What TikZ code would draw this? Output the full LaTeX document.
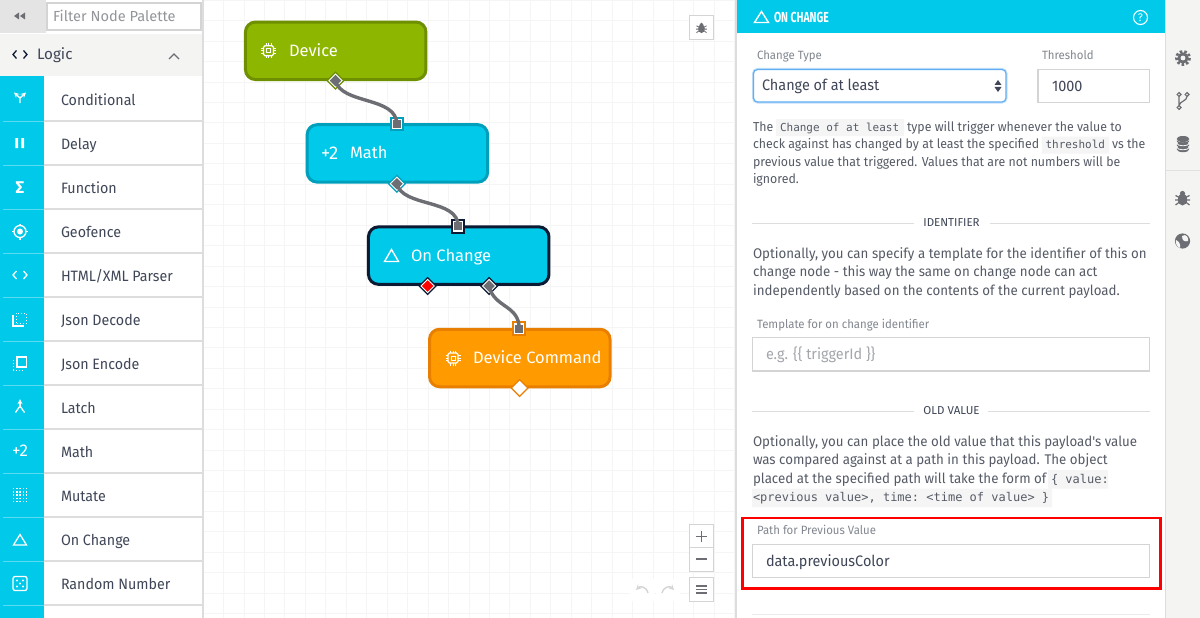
\documentclass[tikz,border=0pt]{standalone}
\usepackage{fontspec}
\setmainfont{Fira Sans}
\setmonofont{DejaVu Sans Mono}
\newfontfamily\narrowfont[FakeStretch=.95]{Fira Sans}
\usetikzlibrary{shapes.geometric}

\definecolor{cyanfill}{HTML}{00C9EA}
\definecolor{cyandark}{HTML}{009FBC}
\definecolor{greenfill}{HTML}{8DB600}
\definecolor{greendark}{HTML}{6E8F00}
\definecolor{orangefill}{HTML}{FF9B00}
\definecolor{orangedark}{HTML}{E97F00}
\definecolor{navydark}{HTML}{0C1A33}
\definecolor{inktext}{HTML}{3F4657}
\definecolor{bodytext}{HTML}{565B66}
\definecolor{labeltext}{HTML}{82878F}
\definecolor{hinttext}{HTML}{A3A6AB}
\definecolor{wiregray}{HTML}{6D6E73}
\definecolor{panelgray}{HTML}{F4F4F3}
\definecolor{rulegray}{HTML}{DDDDDD}
\definecolor{boxgray}{HTML}{D4D4D4}
\definecolor{gridgray}{HTML}{F5F5F5}
\definecolor{chipgray}{HTML}{F5F5F5}
\definecolor{focusblue}{HTML}{62AEF2}
\definecolor{focusglow}{HTML}{C4E0FA}

\tikzset{
  txt/.style={anchor=base west, inner sep=0, outer sep=0},
  rowtext/.style={txt, text=inktext, font=\narrowfont\fontsize{15}{16}\selectfont},
  flowtext/.style={txt, text=white, font=\fontsize{16.5}{18}\selectfont},
  flownode/.style={rectangle, rounded corners=10pt, line width=3pt, minimum width=180.5pt, minimum height=57.5pt, inner sep=0},
  dia/.style={diamond, inner sep=0, outer sep=0},
  sqr/.style={rectangle, inner sep=0, outer sep=0},
  wire/.style={draw=wiregray, line width=3.4pt},
  para/.style={txt, text=bodytext, font=\narrowfont\fontsize{13}{16}\selectfont},
  parb/.style={txt, text=bodytext, font=\narrowfont\fontsize{14}{16}\selectfont},
  monoa/.style={txt, text=bodytext, font=\ttfamily\fontsize{11}{16}\selectfont},
  monob/.style={txt, text=bodytext, font=\ttfamily\fontsize{12}{16}\selectfont},
  caption/.style={txt, text=labeltext, font=\narrowfont\fontsize{12}{14}\selectfont},
  section/.style={anchor=base, inner sep=0, text=inktext, font=\fontsize{11.5}{14}\selectfont},
  fieldtext/.style={txt, text=inktext, font=\narrowfont\fontsize{15.2}{16}\selectfont},
  field/.style={draw=boxgray, line width=1.4pt, fill=white},
  iconline/.style={draw=white, line width=1.3pt},
  btn/.style={draw=boxgray, line width=1pt, fill=white}
}

% output port, name / position / rim / core
\newcommand{\outport}[4]{
  \node[dia, minimum size=18.5pt, fill=#3] (#1) at #2 {};
  \node[dia, minimum size=14.5pt, fill=white] at #2 {};
  \node[dia, minimum size=11.5pt, fill=#4] at #2 {};
}
% input port, name / position / rim
\newcommand{\inport}[3]{
  \node[sqr, minimum size=14.5pt, fill=#3] (#1) at #2 {};
  \node[sqr, minimum size=10.5pt, fill=white] at #2 {};
  \node[sqr, minimum size=8pt, fill=wiregray] at #2 {};
}
\newcommand{\chipicon}[2]{
  \begin{scope}[shift={(#1,#2)}]
    \draw[iconline, rounded corners=1.5pt] (-5,-5) rectangle (5,5);
    \draw[iconline, line width=1pt] (-2,-2) rectangle (2,2);
    \foreach \t in {-2.5,0,2.5} {
      \draw[white, line width=.9pt] (\t,-7.5) -- (\t,-5) (\t,5) -- (\t,7.5) (-7.5,\t) -- (-5,\t) (5,\t) -- (7.5,\t);
    }
  \end{scope}
}
% bug, x / y / size
\newcommand{\bugicon}[3]{
  \begin{scope}[shift={(#1,#2)}, scale=#3]
    \fill[wiregray] (0,1) ellipse (4.6 and 6);
    \fill[wiregray] (0,-5) circle (2.6);
    \draw[wiregray, line width=#3*1.2pt] (-7,-3) -- (-3,-1) (7,-3) -- (3,-1) (-7.5,1.5) -- (7.5,1.5) (-7,6.5) -- (-3,3.5) (7,6.5) -- (3,3.5);
  \end{scope}
}
\newcommand{\chevrons}[2]{
  \draw[iconcolor, line width=1.3pt] (#1-3.5,#2-4) -- (#1-7,#2) -- (#1-3.5,#2+4) (#1+3.5,#2-4) -- (#1+7,#2) -- (#1+3.5,#2+4);
}
\colorlet{iconcolor}{white}

\begin{document}
\begin{tikzpicture}[x=1,y=-1]
\useasboundingbox (0,0) rectangle (1200,618);
\fill[white] (0,0) rectangle (1200,618);

% canvas
\begin{scope}[shift={(203.1,0.22)}]
\draw[gridgray, line width=.9pt, xstep=20.45pt, ystep=20.45pt] (1,618) grid (532,0);
\end{scope}

% palette
\fill[rulegray!80] (0,0) rectangle (46,33);
\fill[white] (46,0) rectangle (202,33);
\draw[boxgray, line width=1.2pt, fill=white] (47,3) rectangle (201,30);
\node[txt, text=hinttext!90!black, font=\fontsize{14.6}{16}\selectfont] (filter) at (53,21.6) {Filter Node Palette};
\fill[wiregray] (14,16) -- (19,12.5) -- (19,19.5) -- cycle (20,16) -- (25,12.5) -- (25,19.5) -- cycle;
\fill[panelgray] (0,34) rectangle (202,76.5);
\colorlet{iconcolor}{navydark}
\chevrons{20}{54.5}
\colorlet{iconcolor}{white}
\node[txt, text=inktext, font=\fontsize{15.2}{16}\selectfont] (logic) at (37,59.8) {Logic};
\draw[wiregray, line width=1.3pt] (169,59) -- (174,54) -- (179,59);
\fill[cyanfill] (0,76.5) rectangle (44,618);
\foreach \y/\name in {105/Conditional,149/Delay,193/Function,237/Geofence,281/{HTML/XML Parser},325/Json Decode,369/Json Encode,413/Latch,457/Math,501/Mutate,545/On Change,589/Random Number} {
  \node[rowtext] (row\y) at (61,\y) {\name};
  \draw[rulegray, line width=1.1pt] (44,\y+16) -- (202,\y+16);
  \draw[white!35!cyanfill, line width=.7pt] (3,\y+16) -- (44,\y+16);
}
\draw[rulegray, line width=1.6pt] (203,0) -- (203,618);

% palette icons
\draw[iconline, ->, >=stealth] (20,103) -- (20,98) -- (14,92.5);
\draw[iconline, ->, >=stealth] (20,98) -- (26,92.5);
\fill[white] (15.3,138) rectangle (18,148) (21.3,138) rectangle (24,148);
\node[white, inner sep=0, font=\bfseries\fontsize{17}{18}\selectfont] (sigma) at (20,188) {Σ};
\draw[iconline] (20,231.5) circle (6);
\fill[white] (20,231.5) circle (3);
\draw[iconline] (20,223.5) -- (20,225.5) (20,237.5) -- (20,239.5) (12,231.5) -- (14,231.5) (26,231.5) -- (28,231.5);
\chevrons{20}{275}
\draw[iconline] (13,315) -- (13,326) -- (24,326);
\draw[white, line width=1pt, dotted] (16,323) -- (16,313) -- (26.5,313) -- (26.5,323) -- cycle;
\draw[iconline] (17,357) rectangle (26.5,367);
\draw[white, line width=1pt, dotted] (13.5,360) -- (13.5,370) -- (24,370);
\draw[iconline, ->, >=stealth] (20,406) -- (20,399);
\draw[iconline] (15.5,412.5) -- (20,406) -- (24.5,412.5);
\node[white, inner sep=0, font=\fontsize{17}{18}\selectfont] (plustwo) at (20,451) {+2};
\foreach \a in {-2,...,2} \foreach \b in {-2,...,2} {
  \fill[white] ({20+3.2*\a-.7},{495+3.2*\b-.7}) rectangle ({20+3.2*\a+.7},{495+3.2*\b+.7});
}
\draw[iconline] (20,534.5) -- (26.5,545) -- (13.5,545) -- cycle;
\draw[iconline, rounded corners=2pt] (13,576.5) rectangle (27,590.5);
\foreach \a/\b in {-3/-3,3/-3,0/0,-3/3,3/3} \fill[white] (20+\a,583.5+\b) circle (1.1);

% flow nodes
\node[flownode, draw=greendark, fill=greenfill] (device) at (335.7,50.8) {};
\node[flownode, draw=cyandark, fill=cyanfill] (math) at (397.4,153.4) {};
\node[flownode, draw=navydark, fill=cyanfill] (onchange) at (458.7,255.6) {};
\node[flownode, draw=orangedark, fill=orangefill] (command) at (519.8,358) {};

\chipicon{268.5}{50.8}
\node[flowtext] (devicetext) at (289,56.8) {Device};
\node[flowtext, font=\fontsize{18.5}{18}\selectfont] (mathicon) at (321,159) {+2};
\node[flowtext] (mathtext) at (350,158.8) {Math};
\draw[iconline, line width=1.4pt] (391.5,249.5) -- (398.5,261.5) -- (384.5,261.5) -- cycle;
\node[flowtext] (onchangetext) at (411,261.8) {On Change};
\chipicon{453}{358}
\node[flowtext] (commandtext) at (473,363.8) {Device Command};

\outport{deviceout}{(335.5,80.7)}{greendark}{wiregray}
\inport{mathin}{(396.8,124.2)}{cyandark}
\outport{mathout}{(396.8,183.7)}{cyandark}{wiregray}
\inport{onchangein}{(458.2,226.3)}{navydark}
\outport{onchangetrue}{(427.5,286)}{navydark}{red}
\outport{onchangefalse}{(489,286)}{navydark}{wiregray}
\inport{commandin}{(519.2,328.7)}{orangedark}
\outport{commandout}{(519.5,388)}{orangedark}{white}

\draw[wire] (deviceout.center) .. controls +(6,24) and +(0,-28) .. (mathin.center);
\draw[wire] (mathout.center) .. controls +(6,24) and +(0,-28) .. (onchangein.center);
\draw[wire] (onchangefalse.center) .. controls +(5,22) and +(0,-24) .. (commandin.center);

% canvas buttons
\node[btn, minimum size=24pt, inner sep=0] (debugbtn) at (701.5,28) {};
\bugicon{701.5}{28}{.72}
\node[btn, minimum size=24pt, inner sep=0] (zoomin) at (701.5,536.5) {};
\node[btn, minimum size=24pt, inner sep=0] (zoomout) at (701.5,559.5) {};
\node[btn, minimum size=24pt, inner sep=0] (menubtn) at (701.5,589.5) {};
\draw[wiregray, line width=1.2pt] (696,536.5) -- (707,536.5) (701.5,531) -- (701.5,542);
\draw[wiregray, line width=1.2pt] (696,559) -- (707,559);
\draw[wiregray, line width=1.2pt] (696,586) -- (707,586) (696,589.5) -- (707,589.5) (696,593) -- (707,593);
\fill[white] (630,579) rectangle (654,601) (656,579) rectangle (680,601);
\draw[boxgray, line width=1.4pt, ->, >=stealth] (648,593) .. controls (646,586) and (640,586) .. (636,590);
\draw[boxgray, line width=1.4pt, ->, >=stealth] (662,593) .. controls (664,586) and (670,586) .. (674,590);

% side bar
\fill[panelgray] (1166,0) rectangle (1200,618);
\fill[boxgray!80] (735,0) rectangle (737,618);
\fill[boxgray!80] (1164.6,0) rectangle (1166,618);
\fill[cyanfill] (737,0) rectangle (1165,33.5);
\draw[boxgray!70, line width=.8pt] (1166,170) -- (1200,170);

% side bar icons
\fill[wiregray] (1183,58) circle (5.6);
\draw[wiregray, line width=2.6pt, dash pattern=on 2.6pt off 2pt] (1183,58) circle (6.6);
\fill[panelgray] (1183,58) circle (2.4);
\draw[wiregray, line width=1.2pt] (1179,94.5) circle (1.9) (1179,107.5) circle (1.9) (1187,94.5) circle (1.9);
\draw[wiregray, line width=1.2pt] (1179,96.5) -- (1179,105.5) (1187,96.5) .. controls (1187,101) and (1180,101) .. (1179,105.5);
\foreach \y in {149,145,141} {
  \fill[wiregray] (1183,\y) ellipse (6.4 and 3.2);
  \draw[panelgray, line width=.8pt] (1176.6,\y-1.6) .. controls (1178,\y+1.6) and (1188,\y+1.6) .. (1189.4,\y-1.6);
}
\fill[wiregray] (1183,139) ellipse (6.4 and 3);
\bugicon{1182.5}{198.5}{1}
\fill[wiregray] (1182.5,241) circle (7.6);
\fill[panelgray] (1182,236) .. controls (1186,233) and (1189,238) .. (1188,241) .. controls (1185,242) and (1182,241) .. cycle;
\fill[panelgray] (1176,240) .. controls (1179,241) and (1181,245) .. (1180,248) .. controls (1177,247) and (1175,243) .. cycle;

% panel head
\draw[iconline, line width=1.4pt] (761.5,11.5) -- (768.5,22.5) -- (754.5,22.5) -- cycle;
\node[txt, text=white, font=\bfseries\fontsize{14.5}{14}\selectfont] (headtext) at (774,22.3) {\scalebox{.72}[1]{ON CHANGE}};
\draw[white, line width=1.1pt] (1140.5,17.5) circle (7);
\node[white, inner sep=0, font=\fontsize{11}{12}\selectfont] (helpmark) at (1140.5,17.5) {?};

% change type and threshold
\node[caption] (typecap) at (757,59.6) {Change Type};
\node[caption] (limitcap) at (1042,59.6) {Threshold};
\draw[focusglow, line width=3pt, rounded corners=4pt] (753.5,69.5) rectangle (1006,102);
\draw[focusblue, line width=1.2pt, fill=white, rounded corners=4pt] (753.5,69.5) rectangle (1006,102);
\node[fieldtext] (typevalue) at (762,90.7) {Change of at least};
\fill[inktext] (998,80) -- (1001.5,85) -- (994.5,85) -- cycle (998,92) -- (1001.5,87) -- (994.5,87) -- cycle;
\draw[field] (1038,69.5) rectangle (1149.5,102.5);
\node[fieldtext] (limitvalue) at (1052,91.3) {1000};

% first text
\fill[chipgray] (776,119) rectangle (904,136) (1042,136.5) rectangle (1109,153.5);
\node[para] (paraa) at (753,131.3) {The};
\node[monoa] (chipa) at (780,131.3) {Change of at least};
\node[para] (paraaa) at (907,131.3) {type will trigger whenever the value to};
\node[para] (paraab) at (753,148.6) {check against has changed by at least the specified};
\node[monoa] (chipb) at (1045.5,148.6) {threshold};
\node[para] (paraac) at (1112,148.6) {vs the};
\node[para] (paraad) at (753,166.1) {previous value that triggered. Values that are not numbers will be};
\node[para] (paraae) at (753,183.5) {ignored.};

% identifier
\node[section] (identhead) at (951.5,226.7) {IDENTIFIER};
\draw[rulegray, line width=1pt] (752,223.3) -- (914,223.3) (990,223.3) -- (1150,223.3);
\node[parb] (parba) at (753,258.2) {Optionally, you can specify a template for the identifier of this on};
\node[parb] (parbb) at (753,276.9) {change node - this way the same on change node can act};
\node[parb] (parbc) at (753,295.2) {independently based on the contents of the current payload.};
\node[caption] (templatecap) at (757,328.2) {Template for on change identifier};
\draw[field] (752.5,337.5) rectangle (1149.5,371);
\node[fieldtext, text=hinttext] (templatehint) at (766,359) {e.g. \{\{ triggerId \}\}};

% old value
\node[section] (oldhead) at (951.5,414.7) {OLD VALUE};
\draw[rulegray, line width=1pt] (752,411.7) -- (914,411.7) (988,411.7) -- (1150,411.7);
\fill[chipgray] (1048,470) rectangle (1108,488.5) (752,488.5) rectangle (1052,507);
\node[parb] (parca) at (753,446.2) {Optionally, you can place the old value that this payload's value};
\node[parb] (parcb) at (753,464.9) {was compared against at a path in this payload. The object};
\node[parb] (parcc) at (753,483.2) {placed at the specified path will take the form of};
\node[monob] (chipc) at (1051,483.2) {\{ value:};
\node[monob] (chipd) at (753,501.7) {<previous value>, time: <time of value> \}};

% path field
\node[caption] (pathcap) at (757,534.5) {Path for Previous Value};
\draw[field] (752.5,544.5) rectangle (1149.5,577.5);
\node[fieldtext] (pathvalue) at (766,566) {data.previousColor};
\draw[red, line width=2.4pt] (742.5,518) rectangle (1160.5,588.5);
\draw[rulegray!60, line width=.8pt] (752,614.5) -- (1150,614.5);
\end{tikzpicture}
\end{document}
